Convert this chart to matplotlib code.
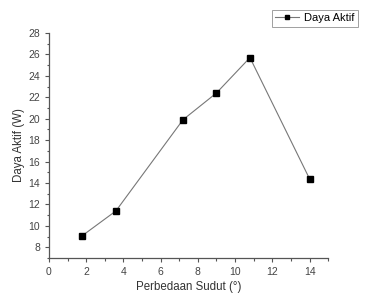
import matplotlib
matplotlib.use("Agg")
import matplotlib.pyplot as plt
from matplotlib.ticker import MultipleLocator

plt.rcParams['font.family'] = ['Liberation Sans', 'DejaVu Sans']

sudut = [1.8, 3.6, 7.2, 9.0, 10.8, 14.0]
daya = [9.1, 11.4, 19.9, 22.4, 25.7, 14.4]

fig = plt.figure(figsize=(3.65, 2.97), dpi=100)
ax = fig.add_axes([0.134, 0.131, 0.765, 0.758])
ax.plot(sudut, daya, color='#777777', lw=0.8, marker='s', ms=4.2,
        mfc='black', mec='black', label='Daya Aktif')
ax.set_xlim(0, 15)
ax.set_ylim(7, 28)
ax.xaxis.set_major_locator(MultipleLocator(2))
ax.xaxis.set_minor_locator(MultipleLocator(1))
ax.yaxis.set_major_locator(MultipleLocator(2))
ax.yaxis.set_minor_locator(MultipleLocator(1))
for s in ['top', 'right']:
    ax.spines[s].set_visible(False)
for s in ['left', 'bottom']:
    ax.spines[s].set_color('#555555')
    ax.spines[s].set_linewidth(0.9)
ax.tick_params(which='major', direction='out', length=3, width=0.8, colors='#555555', labelsize=7.5, labelcolor='#444444')
ax.tick_params(which='minor', direction='out', length=1.8, width=0.8, colors='#555555')
ax.set_xlabel('Perbedaan Sudut (°)', fontsize=8.3, color='#333333', labelpad=3)
ax.set_ylabel('Daya Aktif (W)', fontsize=8.3, color='#333333', labelpad=2)
leg = fig.legend(loc='upper right', bbox_to_anchor=(0.995, 0.985), fontsize=8,
                 frameon=True, fancybox=False, edgecolor='#888888',
                 handlelength=2.2, handletextpad=0.4, borderpad=0.3, markerscale=0.7)
leg.get_frame().set_linewidth(0.7)
fig.savefig('out.png', dpi=100)
